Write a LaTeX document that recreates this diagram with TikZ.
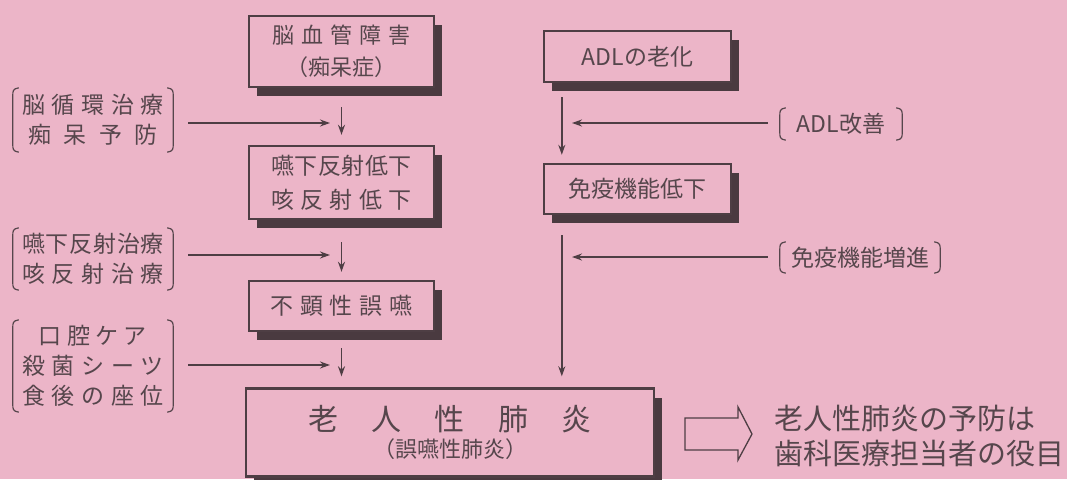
\documentclass[tikz,border=0pt]{standalone}
\usepackage{fontspec}
\setmainfont{Noto Sans CJK JP}
\usetikzlibrary{shadows,arrows.meta}
\definecolor{bgc}{HTML}{ECB5C8}
\definecolor{inkc}{HTML}{56464C}
\definecolor{linec}{HTML}{4E3E44}
\definecolor{shadc}{HTML}{4A3A40}
\newcommand\fs[2]{\fontsize{#1}{#2}\selectfont}
\newcommand\spr[2]{\makebox[#1pt][s]{#2}}
\newcommand\brackets[1]{%
  \draw[brk] ([xshift=6pt]#1.north west) .. controls ([yshift=-1pt]#1.north west) and ([yshift=-3pt]#1.north west) .. ([yshift=-8pt]#1.north west)
     -- ([yshift=8pt]#1.south west) .. controls ([yshift=3pt]#1.south west) and ([yshift=1pt]#1.south west) .. ([xshift=6pt]#1.south west);
  \draw[brk] ([xshift=-6pt]#1.north east) .. controls ([yshift=-1pt]#1.north east) and ([yshift=-3pt]#1.north east) .. ([yshift=-8pt]#1.north east)
     -- ([yshift=8pt]#1.south east) .. controls ([yshift=3pt]#1.south east) and ([yshift=1pt]#1.south east) .. ([xshift=-6pt]#1.south east);}
\begin{document}
\begin{tikzpicture}[x=1pt,y=-1pt,
  box/.style={draw=linec, line width=2.4pt, fill=bgc, inner sep=0pt, text=inkc, align=center,
    drop shadow={shadow xshift=8pt, shadow yshift=-9pt, fill=shadc, opacity=1}},
  grp/.style={inner sep=0pt, text=inkc, align=center, font=\fs{23}{30}},
  brk/.style={draw=inkc, line width=1.2pt},
  arr/.style={draw=linec, line width=1.6pt, -{Stealth[length=10pt,width=7pt]}},
  hollow/.style={draw=linec, line width=1.3pt, line join=miter}]
\fill[bgc] (0,0) rectangle (1067,479);
\useasboundingbox (0,0) rectangle (1067,479);

% left column boxes
\node[box, minimum width=185pt, minimum height=71pt, font=\fs{22}{32}] (b1) at (341.5,51.5)
  {\spr{138}{脳\hfill 血\hfill 管\hfill 障\hfill 害}\\（痴呆症）};
\node[box, minimum width=185pt, minimum height=73pt, font=\fs{23}{34}] (b2) at (341.5,182.5)
  {\spr{140}{嚥\hfill 下\hfill 反\hfill 射\hfill 低\hfill 下}\\\spr{140}{咳\hfill 反\hfill 射\hfill 低\hfill 下}};
\node[box, minimum width=185pt, minimum height=50pt, font=\fs{23}{30}] (b3) at (341.5,306)
  {\spr{142}{不\hfill 顕\hfill 性\hfill 誤\hfill 嚥}};
\node[box, minimum width=408pt, minimum height=88pt] (big) at (450,432.5)
  {{\fs{30}{30}\spr{283}{老\hfill 人\hfill 性\hfill 肺\hfill 炎}}\\[5pt]{\fs{22}{26}（誤嚥性肺炎）}};

% right column boxes
\node[box, minimum width=187pt, minimum height=51pt, font=\fs{23}{30}] (adl) at (637.5,56.5) {ADLの老化};
\node[box, minimum width=187pt, minimum height=50pt, font=\fs{23}{30}] (imm) at (637.5,189) {免疫機能低下};

% left bracket groups
\node[grp, minimum width=160pt, minimum height=64pt] (g1) at (93,120)
  {\spr{142}{脳\hfill 循\hfill 環\hfill 治\hfill 療}\\\spr{130}{痴\hfill 呆\hfill 予\hfill 防}};
\brackets{g1}
\node[grp, minimum width=160pt, minimum height=62pt] (g2) at (93,259)
  {\spr{142}{嚥\hfill 下\hfill 反\hfill 射\hfill 治\hfill 療}\\\spr{142}{咳\hfill 反\hfill 射\hfill 治\hfill 療}};
\brackets{g2}
\node[grp, minimum width=160pt, minimum height=92pt] (g3) at (93,366)
  {\spr{108}{口\hfill 腔\hfill ケ\hfill ア}\\\spr{142}{殺\hfill 菌\hfill シ\hfill ー\hfill ツ}\\\spr{142}{食\hfill 後\hfill の\hfill 座\hfill 位}};
\brackets{g3}

% right bracket groups
\node[grp, minimum width=122pt, minimum height=32pt] (r1) at (841,124) {ADL改善};
\brackets{r1}
\node[grp, minimum width=160pt, minimum height=31pt] (r2) at (860,257.5) {免疫機能増進};
\brackets{r2}

% vertical arrows, left
\draw[arr, shorten <=19pt, shorten >=10pt] (b1.south) -- (b2.north);
\draw[arr, shorten <=22pt, shorten >=8pt] (b2.south) -- (b3.north);
\draw[arr, shorten <=16pt, shorten >=11pt] (b3.south) -- (b3.south |- big.north);

% horizontal arrows, left
\coordinate (la1) at (330,123);
\coordinate (la2) at (330,255);
\coordinate (la3) at (330,365);
\draw[arr, shorten <=15pt] (g1.east |- la1) -- (la1);
\draw[arr, shorten <=15pt] (g2.east |- la2) -- (la2);
\draw[arr, shorten <=15pt] (g3.east |- la3) -- (la3);

% vertical arrows, right
\coordinate (rvt) at ([xshift=19pt]adl.south west);
\coordinate (rvm) at ([xshift=19pt]imm.north west);
\coordinate (rvb) at ([xshift=19pt]imm.south west);
\draw[arr, shorten <=14pt, shorten >=8pt] (rvt) -- (rvm);
\draw[arr, shorten <=20pt, shorten >=11pt] (rvb) -- (rvb |- big.north);

% horizontal arrows, right
\coordinate (ra1) at (572,123);
\coordinate (ra2) at (572,257);
\draw[arr, shorten <=12pt] (r1.west |- ra1) -- (ra1);
\draw[arr, shorten <=12pt] (r2.west |- ra2) -- (ra2);

% hollow arrow and conclusion
\draw[hollow] (685,418) -- (738,418) -- (738,407) -- (752,434) -- (738,460) -- (738,450) -- (685,450) -- cycle;
\node[anchor=west, inner sep=0pt, text=inkc, align=left, font=\fs{29}{35}] (concl) at (774,436)
  {老人性肺炎の予防は\\歯科医療担当者の役目};
\end{tikzpicture}
\end{document}
